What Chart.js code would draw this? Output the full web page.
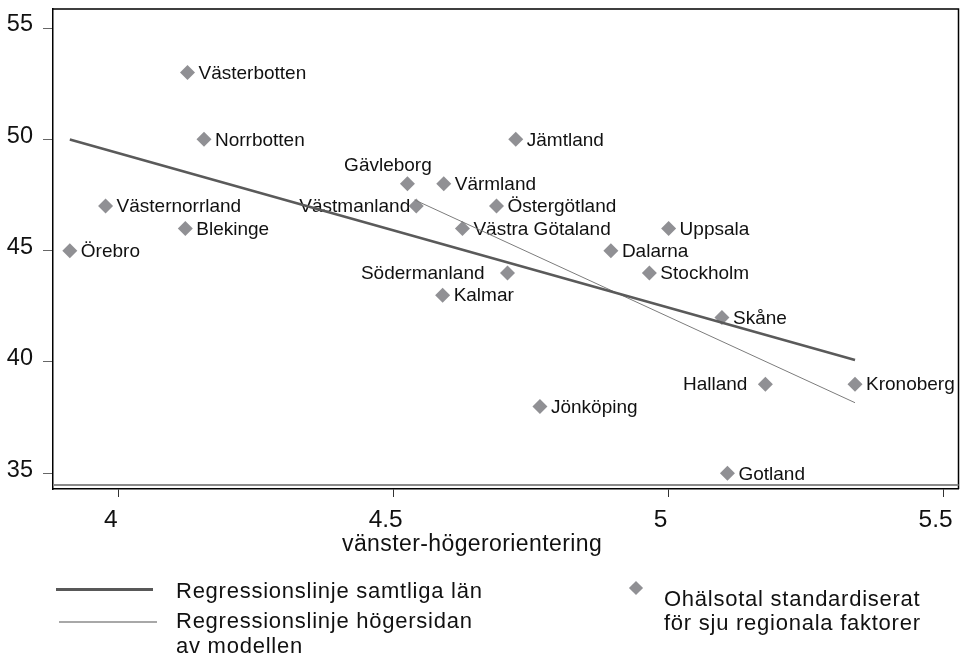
<!DOCTYPE html>
<html lang="sv">
<head>
<meta charset="UTF-8">
<title>Ohälsotal och vänster-högerorientering</title>
<script src="https://cdn.jsdelivr.net/npm/chart.js"></script>
<style>
    body { margin: 0; background: #fff; }
    #wrap { position: relative; width: 966px; height: 656px; font-family: 'Liberation Sans', Arial, sans-serif; color: #111; }
    #wrap canvas { position: absolute; left: 0; top: 0; }
    .txt { position: absolute; white-space: nowrap; font-size: 22px; line-height: 25px; letter-spacing: 0.75px; }
    .swatch { position: absolute; }
</style>
</head>
<body>
<div id="wrap">
    <canvas id="chart" width="966" height="656"></canvas>
    <div class="txt" style="left:342px; top:531px; font-size:23px; letter-spacing:0.4px;">vänster-högerorientering</div>
    <div class="swatch" style="left:56px; top:588px; width:97px; height:3px; background:#585858;"></div>
    <div class="txt" style="left:176px; top:578px;">Regressionslinje samtliga län</div>
    <div class="swatch" style="left:59px; top:621px; width:98px; height:2px; background:#a8a8a8;"></div>
    <div class="txt" style="left:176px; top:608px;">Regressionslinje högersidan<br>av modellen</div>
    <div class="swatch" style="left:631px; top:583px; width:10px; height:10px; background:#909094; transform:rotate(45deg);"></div>
    <div class="txt" style="left:664px; top:587px; line-height:24px;">Ohälsotal standardiserat<br>för sju regionala faktorer</div>
</div>
<script>
// län, vänster-höger (x) och ohälsotal (y)
const regions = ['Stockholm', 'Uppsala', 'Södermanland', 'Östergötland', 'Jönköping', 'Kronoberg', 'Kalmar',
    'Gotland', 'Blekinge', 'Skåne', 'Halland', 'Västra Götaland', 'Värmland', 'Örebro', 'Västmanland',
    'Dalarna', 'Gävleborg', 'Västernorrland', 'Jämtland', 'Västerbotten', 'Norrbotten'];
const xValues = [4.965, 5.0, 4.707, 4.687, 4.766, 5.339, 4.589,
    5.107, 4.121, 5.097, 5.176, 4.625, 4.591, 3.911, 4.541,
    4.895, 4.525, 3.976, 4.722, 4.125, 4.155];
const yValues = [44, 46, 44, 47, 38, 39, 43,
    35, 46, 42, 39, 46, 48, 45, 47,
    45, 48, 47, 50, 53, 50];

// regressionslinjer (ändpunkter)
const lineAllX = [3.911, 5.339];
const lineAllY = [49.99, 40.09];
const lineRightX = [4.538, 5.339];
const lineRightY = [47.28, 38.17];

const xTicks = [4, 4.5, 5, 5.5];
const yTicks = [35, 40, 45, 50, 55];

const fontFamily = "'Liberation Sans', Arial, sans-serif";
Chart.defaults.font.family = fontFamily;

// etiketter som inte står till höger om punkten
const labelPlace = {
    'Västmanland': { side: 'left', gap: 6 },
    'Södermanland': { side: 'left', gap: 23 },
    'Halland': { side: 'left', gap: 18 },
    'Gävleborg': { side: 'above', dx: -19.5, dy: -19 }
};

const boxPlugin = {
    id: 'box',
    afterDatasetsDraw(chart) {
        const { ctx, chartArea: a } = chart;
        ctx.save();
        ctx.strokeStyle = '#000';
        ctx.lineWidth = 1.5;
        ctx.beginPath();
        ctx.moveTo(a.left, a.top);
        ctx.lineTo(a.right, a.top);
        ctx.lineTo(a.right, a.bottom);
        ctx.stroke();
        ctx.strokeStyle = '#8a8a8a';
        ctx.lineWidth = 2;
        ctx.beginPath();
        ctx.moveTo(a.left, a.bottom - 4);
        ctx.lineTo(a.right, a.bottom - 4);
        ctx.stroke();
        ctx.restore();
    }
};

const labelPlugin = {
    id: 'pointLabels',
    beforeDatasetsDraw(chart) {
        const { ctx } = chart;
        const x = chart.scales.x, y = chart.scales.y;
        ctx.save();
        ctx.font = '19px ' + fontFamily;
        ctx.fillStyle = '#111';
        ctx.textBaseline = 'middle';
        regions.forEach((name, i) => {
            const px = x.getPixelForValue(xValues[i]);
            const py = y.getPixelForValue(yValues[i]) + 1;
            const p = labelPlace[name];
            if (!p) {
                ctx.textAlign = 'left';
                ctx.fillText(name, px + 11, py);
            } else if (p.side === 'left') {
                ctx.textAlign = 'right';
                ctx.fillText(name, px - p.gap, py);
            } else {
                ctx.textAlign = 'center';
                ctx.fillText(name, px + p.dx, py + p.dy);
            }
        });
        ctx.restore();
    }
};

new Chart(document.getElementById('chart'), {
    type: 'scatter',
    data: {
        datasets: [
            {
                label: 'Regressionslinje samtliga län',
                data: lineAllX.map((v, i) => ({ x: v, y: lineAllY[i] })),
                showLine: true, borderColor: '#5a5a5a', borderWidth: 2.5, pointRadius: 0
            },
            {
                label: 'Regressionslinje högersidan av modellen',
                data: lineRightX.map((v, i) => ({ x: v, y: lineRightY[i] })),
                showLine: true, borderColor: '#7c7c7c', borderWidth: 1, pointRadius: 0
            },
            {
                label: 'Ohälsotal standardiserat för sju regionala faktorer',
                data: regions.map((n, i) => ({ x: xValues[i], y: yValues[i] })),
                pointStyle: 'rectRot', pointRadius: 7.5, backgroundColor: '#909094', borderWidth: 0
            }
        ]
    },
    options: {
        responsive: false,
        animation: false,
        layout: { padding: { top: 9, right: 4, left: 0, bottom: 0 } },
        plugins: { legend: { display: false }, tooltip: { enabled: false } },
        scales: {
            x: {
                type: 'linear', min: 3.8804, max: 5.5272,
                afterBuildTicks: s => { s.ticks = xTicks.map(v => ({ value: v })); },
                afterFit: s => { s.height = 167; s.paddingLeft = 0; s.paddingRight = 0; },
                grid: { drawOnChartArea: false, tickLength: 8, color: '#333' },
                border: { color: '#000', width: 1.5 },
                ticks: { font: { size: 24.5 }, color: '#111', padding: 9, labelOffset: -8, maxRotation: 0, callback: v => String(v) }
            },
            y: {
                type: 'linear', min: 34.294, max: 55.854,
                afterBuildTicks: s => { s.ticks = yTicks.map(v => ({ value: v })); },
                afterFit: s => { s.width = 53; s.paddingTop = 0; s.paddingBottom = 0; },
                grid: { drawOnChartArea: false, tickLength: 10, color: '#666' },
                border: { color: '#000', width: 1.5 },
                ticks: { font: { size: 23.5 }, color: '#111', padding: 10, labelOffset: -3, callback: v => String(v) }
            }
        }
    },
    plugins: [boxPlugin, labelPlugin]
});
</script>
</body>
</html>
